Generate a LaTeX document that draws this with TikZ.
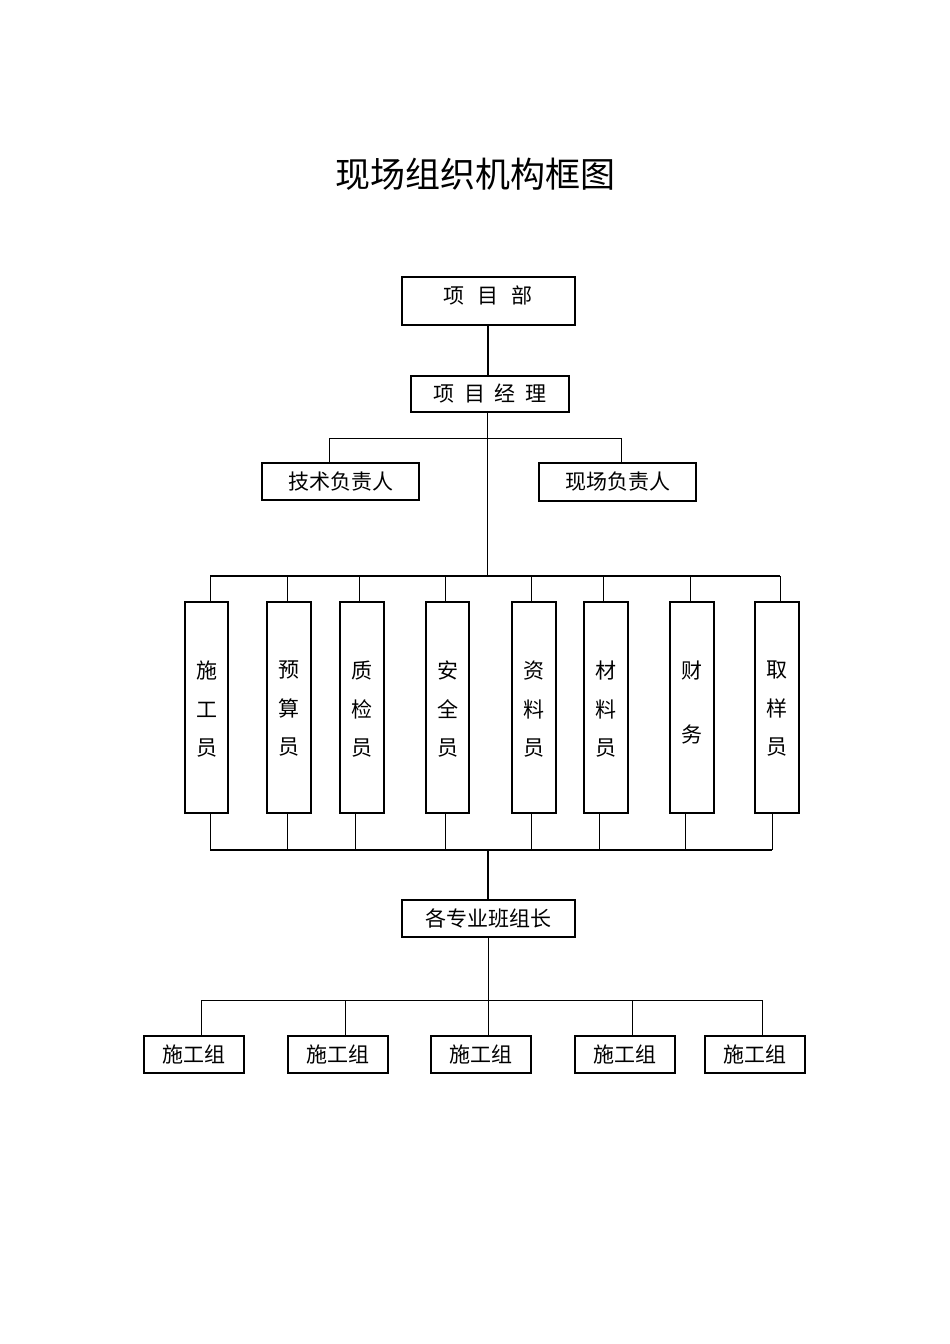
\documentclass[tikz,border=0pt]{standalone}
\usepackage{fontspec}
\setmainfont{Noto Sans CJK SC}
\begin{document}
\begin{tikzpicture}[x=1pt,y=-1pt,
 bx/.style={draw,line width=1.3pt,inner sep=0pt},
 ln/.style={line width=0.8pt},
 tk/.style={line width=1.6pt},
 txt/.style={font=\fontsize{21}{24}\selectfont}]
\useasboundingbox (0,0) rectangle (950,1344);
\node[font=\fontsize{35}{40}\selectfont] (title) at (475,174) {现场组织机构框图};
\newcommand\bxx[6]{\draw[bx] (#2,#4) rectangle (#3,#5); \node[txt,inner sep=0pt] (#1) at ({(#2+#3)/2},{(#4+#5)/2}) {#6};}
\draw[bx] (402,277) rectangle (575,325);
\node[txt,inner sep=0pt] (xmb) at (488,295) {项\hspace{13pt}目\hspace{13pt}部};
\bxx{xmjl}{411}{569}{376}{412}{项\ \ 目\ \ 经\ \ 理}
\bxx{jsfz}{262}{419}{463}{500}{技术负责人}
\bxx{xcfz}{539}{696}{463}{501}{现场负责人}
\draw[tk] (488,325) -- (488,376);
\draw[ln] (487,412) -- (487,576);
\draw[ln] (329,463) -- (329,438) -- (621,438) -- (621,463);
\draw[tk] (210,576) -- (780,576);
\foreach \a/\b/\t [count=\i] in {185/228/{施\\工\\员},267/311/{预\\算\\员},340/384/{质\\检\\员},426/469/{安\\全\\员},512/556/{资\\料\\员},584/628/{材\\料\\员},755/799/{取\\样\\员}}{
 \draw[bx] (\a,602) rectangle (\b,813);
 \node[txt,align=center,anchor=north,inner sep=0pt,font=\fontsize{21}{38.5}\selectfont] (v\i) at ({(\a+\b)/2},661) {\t};
}
\draw[bx] (670,602) rectangle (714,813);
\node[txt,align=center,anchor=north,inner sep=0pt,font=\fontsize{21}{64}\selectfont] (cw) at (692,661) {财\\务};
\foreach \x in {210,287,359,445,531,603,690,780} \draw[ln] (\x,576) -- (\x,602);
\foreach \x in {210,287,355,445,531,599,685,772} \draw[ln] (\x,813) -- (\x,850);
\draw[tk] (210,850) -- (772,850);
\bxx{bzz}{402}{575}{900}{937}{各专业班组长}
\draw[tk] (488,850) -- (488,900);
\draw[ln] (488,937) -- (488,1036);
\draw[ln] (201,1000) -- (762,1000);
\foreach \a/\b/\x [count=\i] in {144/244/201,288/388/345,431/531/488,575/675/632,705/805/762}{
 \draw[bx] (\a,1036) rectangle (\b,1073);
 \node[txt,inner sep=0pt] (g\i) at ({(\a+\b)/2},1054) {施工组};
 \draw[ln] (\x,1000) -- (\x,1036);
}
\end{tikzpicture}
\end{document}
